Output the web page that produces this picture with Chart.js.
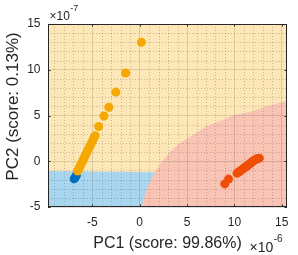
<!DOCTYPE html>
<html><head><meta charset="utf-8">
<script src="https://cdn.jsdelivr.net/npm/chart.js@4"></script>
<style>html,body{margin:0;padding:0;background:#fff;}#wrap{width:298px;height:255px;}</style>
</head><body><div id="wrap"><canvas id="c" width="298" height="255"></canvas></div>
<script>
// Tick labels (values in units of 1e-6 for x and 1e-7 for y)
const xTicks = [-5, 0, 5, 10, 15];
const yTicks = [-5, 0, 5, 10, 15];
const xMinorTicks = [-9, -8, -7, -6, -4, -3, -2, -1, 1, 2, 3, 4, 6, 7, 8, 9, 11, 12, 13, 14];
const yMinorTicks = [-4, -3, -2, -1, 1, 2, 3, 4, 6, 7, 8, 9, 11, 12, 13, 14];

// Scores of group 3 (yellow)
const orangeX = [0.18, -1.48, -2.52, -3.26, -3.77, -4.33, -4.70, -4.85, -5.00, -5.12, -5.25, -5.36, -5.48, -5.60, -5.71, -5.82, -5.93, -6.03, -6.13, -6.24, -6.34, -6.44, -6.55];
const orangeY = [13.0, 9.64, 7.56, 5.90, 4.94, 3.80, 2.80, 2.50, 2.20, 1.95, 1.68, 1.43, 1.18, 0.93, 0.70, 0.46, 0.24, 0.00, -0.20, -0.42, -0.63, -0.84, -1.06];
// Scores of group 1 (blue)
const blueX = [-6.92, -6.80, -6.68];
const blueY = [-1.92, -1.75, -1.55];
// Scores of group 2 (red)
const redX = [8.98, 9.38, 10.28, 10.45, 10.62, 10.80, 10.95, 11.10, 11.25, 11.42, 11.58, 11.72, 11.88, 12.02, 12.18, 12.32, 12.48, 12.62];
const redY = [-2.48, -1.95, -1.30, -1.18, -1.05, -0.92, -0.80, -0.68, -0.57, -0.44, -0.30, -0.20, -0.06, 0.05, 0.15, 0.24, 0.30, 0.34];

// Decision regions
const redRegionX = [0.18, 0.88, 1.59, 2.29, 3.35, 4.41, 5.81, 6.87, 8.10, 9.86, 11.63, 13.40, 16.0];
const redRegionY = [-5.0, -2.66, -1.20, -0.11, 1.16, 2.07, 2.98, 3.71, 4.26, 4.98, 5.40, 6.00, 6.75];
const blueRegionX = [-10.0, 2.0];
const blueRegionY = [-1.05, -1.20];
const yellowRegionX = [-10.0, 16.0];
const yellowRegionY = [15.0, 15.0];

const X_MIN = -9.68, X_MAX = 15.55, Y_MIN = -5, Y_MAX = 15;

const pts = (xs, ys) => xs.map((x, i) => ({x: x, y: ys[i]}));
const TXT = '#262626';
const FONT = '"Liberation Sans", Arial, sans-serif';

const decor = {
  id: 'decor',
  beforeDatasetsDraw(chart) {
    const {ctx, chartArea: a, scales: {x, y}} = chart;
    ctx.save();
    ctx.beginPath(); ctx.rect(a.left, a.top, a.right - a.left, a.bottom - a.top); ctx.clip();
    ctx.strokeStyle = 'rgba(38,38,38,0.25)';
    ctx.lineWidth = 1;
    ctx.setLineDash([1, 2]);
    xMinorTicks.forEach(v => {
      const px = Math.round(x.getPixelForValue(v)) + 0.5;
      ctx.beginPath(); ctx.moveTo(px, a.top); ctx.lineTo(px, a.bottom); ctx.stroke();
    });
    yMinorTicks.forEach(v => {
      const py = Math.round(y.getPixelForValue(v)) + 0.5;
      ctx.beginPath(); ctx.moveTo(a.left, py); ctx.lineTo(a.right, py); ctx.stroke();
    });
    ctx.restore();
  },
  afterDraw(chart) {
    const {ctx, chartArea: a, scales: {x, y}} = chart;
    ctx.save();
    ctx.strokeStyle = TXT;
    ctx.lineWidth = 1;
    ctx.strokeRect(a.left + 0.5, a.top + 0.5, a.right - a.left - 1, a.bottom - a.top - 1);
    const tl = 2.5;
    ctx.beginPath();
    xTicks.forEach(v => {
      const px = Math.round(x.getPixelForValue(v)) + 0.5;
      ctx.moveTo(px, a.bottom); ctx.lineTo(px, a.bottom - tl);
      ctx.moveTo(px, a.top); ctx.lineTo(px, a.top + tl);
    });
    yTicks.forEach(v => {
      const py = Math.round(y.getPixelForValue(v)) + 0.5;
      ctx.moveTo(a.left, py); ctx.lineTo(a.left + tl, py);
      ctx.moveTo(a.right, py); ctx.lineTo(a.right - tl, py);
    });
    ctx.stroke();
    ctx.fillStyle = TXT;
    // exponent labels
    ctx.textBaseline = 'alphabetic';
    ctx.textAlign = 'left';
    ctx.font = '12px ' + FONT;
    let w = ctx.measureText('\u00d710').width;
    ctx.fillText('\u00d710', 49.5, 19.5);
    ctx.font = '9px ' + FONT;
    ctx.fillText('-7', 49.5 + w + 0.5, 10.5);
    ctx.font = '14px ' + FONT;
    w = ctx.measureText('\u00d710').width;
    ctx.fillText('\u00d710', 249.5, 251.5);
    ctx.font = '10px ' + FONT;
    ctx.fillText('-6', 249.5 + w + 0.5, 241.5);
    // y title
    ctx.font = '17px ' + FONT;
    ctx.textAlign = 'center';
    ctx.textBaseline = 'middle';
    ctx.translate(13.5, 106.5);
    ctx.rotate(-Math.PI / 2);
    ctx.fillText('PC2 (score: 0.13%)', 0, 0);
    ctx.restore();
  }
};

const pointDs = (label, data, color, order) => ({
  label, data, order,
  backgroundColor: color, borderColor: color,
  pointRadius: 4.5, pointBorderWidth: 0, pointHoverRadius: 4.5, showLine: false
});
const regionDs = (label, data, color, order) => ({
  label, data, order,
  showLine: true, fill: 'start', tension: 0.3,
  backgroundColor: color, borderColor: 'transparent', borderWidth: 0,
  pointRadius: 0, pointHoverRadius: 0
});

new Chart(document.getElementById('c'), {
  type: 'scatter',
  data: {
    datasets: [
      pointDs('Group 3', pts(orangeX, orangeY), '#F5A800', 1),
      pointDs('Group 2', pts(redX, redY), '#F04E06', 1),
      pointDs('Group 1', pts(blueX, blueY), '#0070BD', 2),
      regionDs('Region 2', pts(redRegionX, redRegionY), '#FAC4B5', 10),
      regionDs('Region 1', pts(blueRegionX, blueRegionY), '#A8D6EE', 11),
      regionDs('Region 3', pts(yellowRegionX, yellowRegionY), '#FEE7B6', 12)
    ]
  },
  options: {
    responsive: false,
    animation: false,
    devicePixelRatio: 1,
    layout: {padding: {left: 0, right: 11, top: 24, bottom: 0}},
    plugins: {legend: {display: false}, tooltip: {enabled: false}, filler: {drawTime: 'beforeDraw'}},
    scales: {
      x: {
        type: 'linear', min: X_MIN, max: X_MAX,
        afterBuildTicks: s => { s.ticks = xTicks.map(v => ({value: v})); },
        afterFit: s => { s.height = 48; },
        ticks: {color: TXT, font: {size: 12, family: FONT}, padding: 8, maxRotation: 0, autoSkip: false, callback: v => String(v)},
        grid: {color: 'rgba(38,38,38,0.15)', lineWidth: 1, drawTicks: false},
        border: {display: false},
        title: {display: true, text: 'PC1 (score: 99.86%)', color: TXT, font: {size: 16, family: FONT}, padding: {top: 0, bottom: 2}}
      },
      y: {
        type: 'linear', min: Y_MIN, max: Y_MAX,
        afterBuildTicks: s => { s.ticks = yTicks.map(v => ({value: v})); },
        afterFit: s => { s.width = 48; },
        ticks: {color: TXT, font: {size: 12, family: FONT}, padding: 7.5, autoSkip: false, callback: v => String(v)},
        grid: {color: 'rgba(38,38,38,0.15)', lineWidth: 1, drawTicks: false},
        border: {display: false},
        title: {display: false}
      }
    }
  },
  plugins: [decor]
});
</script>
</body></html>
